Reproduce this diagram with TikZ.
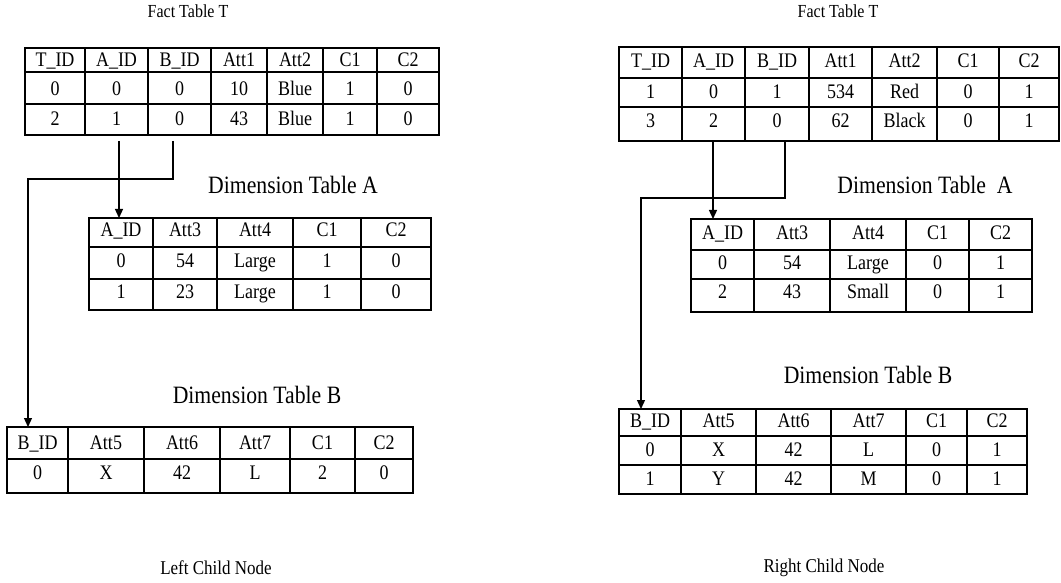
\documentclass[tikz,border=0pt]{standalone}
\usepackage{fontspec}
\usepackage{graphicx}
\setmainfont{Liberation Serif}
\usetikzlibrary{arrows.meta}
\newcommand\tabfont{\fontsize{18}{21}\selectfont}
\newcommand\factfont{\fontsize{16}{19}\selectfont}
\newcommand\dimfont{\fontsize{21.7}{26}\selectfont}
\newcommand\childfont{\fontsize{17}{20}\selectfont}
% glyphs of this drawing are set a little taller than wide
\newcommand\vs[1]{\scalebox{1}[1.15]{#1}}

\begin{document}
\begin{tikzpicture}[x=1pt,y=-1pt,
  grid/.style={line width=1.1pt},
  tbox/.style={draw, line width=1.1pt, anchor=north west, inner sep=0pt, outer sep=0pt},
  cell/.style={anchor=base, inner sep=0pt, font=\tabfont, yshift=-6.8pt},
  link/.style={line width=1.3pt},
  arr/.style={link, -{Triangle[width=8pt,length=9pt]}},
  ttl/.style={inner sep=0pt, anchor=center},
]
\useasboundingbox (0,0) rectangle (1061,583);

% ---------------- left child node ----------------
\node[ttl, font=\factfont] (LFt) at (188,11) {\vs{Fact Table T}};
\node[tbox, minimum width=414pt, minimum height=87pt] (LF) at (25,48) {};
\foreach \x in {85,148,211,267,323,377} \draw[grid] (\x,48) -- (\x,135);
\foreach \y in {72,104} \draw[grid] (25,\y) -- (439,\y);
\foreach \x/\a/\b/\c [count=\i] in {55/T\_ID/0/2, 116.5/A\_ID/0/1, 179.5/B\_ID/0/0,
    239/Att1/10/43, 295/Att2/Blue/Blue, 350/C1/1/1, 408/C2/0/0} {
  \node[cell] (LF-h\i) at (\x,60) {\vs{\a}};
  \node[cell] (LF-a\i) at (\x,89) {\vs{\b}};
  \node[cell] (LF-b\i) at (\x,119) {\vs{\c}};
}

\node[ttl, font=\dimfont] (LAt) at (293,185) {\vs{Dimension Table A}};
\node[tbox, minimum width=342pt, minimum height=92pt] (LA) at (89,218) {};
\foreach \x in {153,217,293,361} \draw[grid] (\x,218) -- (\x,310);
\foreach \y in {247,279} \draw[grid] (89,\y) -- (431,\y);
\foreach \x/\a/\b/\c [count=\i] in {121/A\_ID/0/1, 185/Att3/54/23, 255/Att4/Large/Large,
    327/C1/1/1, 396/C2/0/0} {
  \node[cell] (LA-h\i) at (\x,230) {\vs{\a}};
  \node[cell] (LA-a\i) at (\x,261) {\vs{\b}};
  \node[cell] (LA-b\i) at (\x,292) {\vs{\c}};
}

\node[ttl, font=\dimfont] (LBt) at (257,395) {\vs{Dimension Table B}};
\node[tbox, minimum width=406pt, minimum height=66pt] (LB) at (7,427) {};
\foreach \x in {68,144,220,290,355} \draw[grid] (\x,427) -- (\x,493);
\draw[grid] (7,459) -- (413,459);
\foreach \x/\a/\b [count=\i] in {37.5/B\_ID/0, 106/Att5/X, 182/Att6/42, 255/Att7/L,
    322.5/C1/2, 384/C2/0} {
  \node[cell] (LB-h\i) at (\x,443) {\vs{\a}};
  \node[cell] (LB-a\i) at (\x,473) {\vs{\b}};
}

% key links of the left fact table
\coordinate (la) at (119,141);
\coordinate (lb) at (173,141);
\coordinate (lbx) at (28,179);
\draw[arr] (la) -- (la |- LA.north);
\draw[arr] (lb) |- (lbx) -- (lbx |- LB.north);

\node[ttl, font=\childfont] (Lc) at (216,568) {\vs{Left Child Node}};

% ---------------- right child node ----------------
\node[ttl, font=\factfont] (RFt) at (838,11) {\vs{Fact Table T}};
\node[tbox, minimum width=440pt, minimum height=94pt] (RF) at (619,47) {};
\foreach \x in {682,745,809,872,937,999} \draw[grid] (\x,47) -- (\x,141);
\foreach \y in {78,107} \draw[grid] (619,\y) -- (1059,\y);
\foreach \x/\a/\b/\c [count=\i] in {650.5/T\_ID/1/3, 713.5/A\_ID/0/2, 777/B\_ID/1/0,
    840.5/Att1/534/62, 904.5/Att2/Red/Black, 968/C1/0/0, 1029/C2/1/1} {
  \node[cell] (RF-h\i) at (\x,61) {\vs{\a}};
  \node[cell] (RF-a\i) at (\x,92) {\vs{\b}};
  \node[cell] (RF-b\i) at (\x,121) {\vs{\c}};
}

\node[ttl, font=\dimfont] (RAt) at (925,185) {\vs{Dimension Table\ \ A}};
\node[tbox, minimum width=341pt, minimum height=93pt] (RA) at (691,219) {};
\foreach \x in {754,830,906,969} \draw[grid] (\x,219) -- (\x,312);
\foreach \y in {250,279} \draw[grid] (691,\y) -- (1032,\y);
\foreach \x/\a/\b/\c [count=\i] in {722.5/A\_ID/0/2, 792/Att3/54/43, 868/Att4/Large/Small,
    937.5/C1/0/0, 1000.5/C2/1/1} {
  \node[cell] (RA-h\i) at (\x,233) {\vs{\a}};
  \node[cell] (RA-a\i) at (\x,263) {\vs{\b}};
  \node[cell] (RA-b\i) at (\x,292) {\vs{\c}};
}

\node[ttl, font=\dimfont] (RBt) at (868,375) {\vs{Dimension Table B}};
\node[tbox, minimum width=408pt, minimum height=85pt] (RB) at (619,409) {};
\foreach \x in {681,756,831,906,967} \draw[grid] (\x,409) -- (\x,494);
\foreach \y in {436,465} \draw[grid] (619,\y) -- (1027,\y);
\foreach \x/\a/\b/\c [count=\i] in {650/B\_ID/0/1, 718.5/Att5/X/Y, 793.5/Att6/42/42,
    868.5/Att7/L/M, 936.5/C1/0/0, 997/C2/1/1} {
  \node[cell] (RB-h\i) at (\x,421) {\vs{\a}};
  \node[cell] (RB-a\i) at (\x,450) {\vs{\b}};
  \node[cell] (RB-b\i) at (\x,479) {\vs{\c}};
}

% key links of the right fact table
\coordinate (ra) at (713,141);
\coordinate (rb) at (785,141);
\coordinate (rbx) at (641,198);
\draw[arr] (ra) -- (ra |- RA.north);
\draw[arr] (rb) |- (rbx) -- (rbx |- RB.north);

\node[ttl, font=\childfont] (Rc) at (824,568) {\vs{Right Child Node}};
\end{tikzpicture}
\end{document}
